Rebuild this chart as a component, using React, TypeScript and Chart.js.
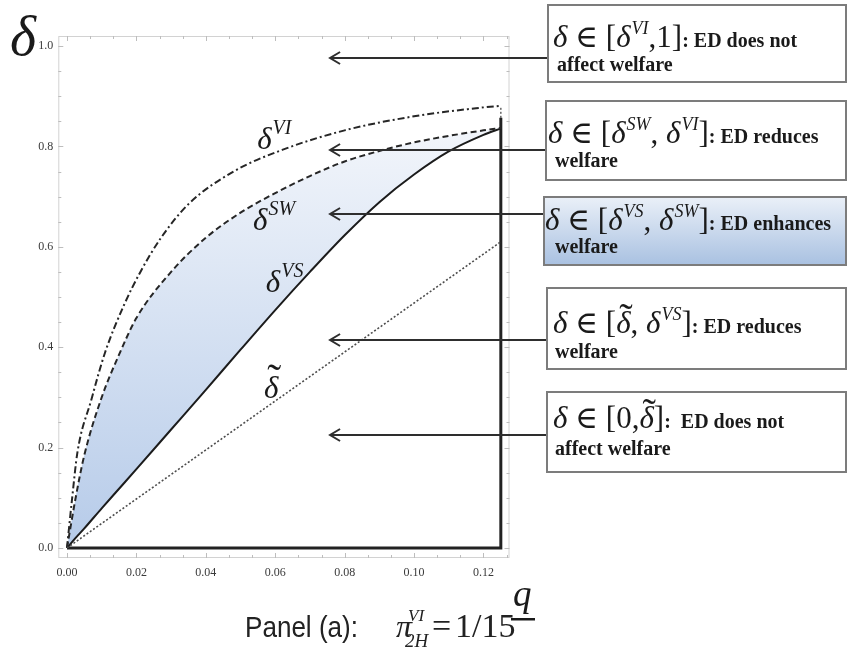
import React, { useEffect, useRef } from "react";
import { Chart, registerables } from "chart.js";
Chart.register(...registerables);

// ---- data ----
const qGrid = [0, 0.0025, 0.005, 0.01, 0.015, 0.02, 0.03, 0.04, 0.05, 0.06, 0.07, 0.08, 0.09, 0.1, 0.11, 0.12, 0.125];
const deltaSW = [0, 0.1, 0.185, 0.3, 0.385, 0.458, 0.55, 0.618, 0.668, 0.707, 0.741, 0.77, 0.791, 0.808, 0.821, 0.832, 0.837];
const deltaVS = [0, 0.02, 0.039, 0.079, 0.118, 0.157, 0.236, 0.315, 0.395, 0.474, 0.55, 0.623, 0.689, 0.744, 0.79, 0.823, 0.836];
const qVI = [0, 0.0015, 0.003, 0.007, 0.011, 0.0165, 0.021, 0.027, 0.035, 0.048, 0.062, 0.08, 0.1, 0.119, 0.125];
const deltaVI = [0, 0.1, 0.19, 0.295, 0.39, 0.485, 0.548, 0.617, 0.685, 0.75, 0.793, 0.832, 0.86, 0.877, 0.881];
const qTilde = [0, 0.125];
const deltaTilde = [0, 0.61];
const qBoundary = [0, 0.125, 0.125];
const deltaBoundary = [0, 0, 0.857];
const qCap = [0.125, 0.125];
const deltaCap = [0.857, 0.881];

const xTicks = [0, 0.02, 0.04, 0.06, 0.08, 0.1, 0.12];
const yTicks = [0, 0.2, 0.4, 0.6, 0.8, 1.0];
const xMinorStep = 0.02 / 3;
const yMinorStep = 0.05;

// arrows: delta level each arrow points at, and q of the arrow head
const arrowLevels = [0.976, 0.793, 0.665, 0.414, 0.225];
const arrowHeadQ = 0.0758;

// curve label anchors (q, delta)
const curveLabels = [
  { q: 0.0548, d: 0.795, sup: "VI", tilde: false },
  { q: 0.0536, d: 0.634, sup: "SW", tilde: false },
  { q: 0.0573, d: 0.51, sup: "VS", tilde: false },
  { q: 0.0568, d: 0.299, sup: "", tilde: true },
];

const SERIF = '"Liberation Serif", "DejaVu Serif", serif';
const SANS = '"Liberation Sans", Arial, sans-serif';
const fI = (s: number) => `italic ${s}px ${SERIF}`;
const fR = (s: number) => `${s}px ${SERIF}`;
const fB = (s: number) => `bold ${s}px ${SERIF}`;

type Part = { t: string; font: string; dy?: number; dx?: number; tilde?: boolean };

const M = 31;
const S = 18;
const B = 20;
const dI = (): Part => ({ t: "δ", font: fI(M) });
const sup = (t: string): Part => ({ t, font: fI(S), dy: -13, dx: 1 });

const boxes = [
  {
    x: 548, y: 5, w: 299, h: 77, blue: false,
    lines: [
      { x: 553, y: 47, parts: [dI(), { t: " ∈ [", font: fR(M) }, dI(), sup("VI"), { t: ",1]", font: fR(M) }, { t: ": ED does not", font: fB(B) }] },
      { x: 557, y: 71, parts: [{ t: "affect welfare", font: fB(B) }] },
    ],
  },
  {
    x: 546, y: 101, w: 301, h: 79, blue: false,
    lines: [
      { x: 548, y: 143, parts: [dI(), { t: " ∈ [", font: fR(M) }, dI(), sup("SW"), { t: ", ", font: fR(M) }, dI(), sup("VI"), { t: "]", font: fR(M) }, { t: ": ED reduces", font: fB(B) }] },
      { x: 555, y: 167, parts: [{ t: "welfare", font: fB(B) }] },
    ],
  },
  {
    x: 544, y: 197, w: 303, h: 68, blue: true,
    lines: [
      { x: 545, y: 230, parts: [dI(), { t: " ∈ [", font: fR(M) }, dI(), sup("VS"), { t: ", ", font: fR(M) }, dI(), sup("SW"), { t: "]", font: fR(M) }, { t: ": ED enhances", font: fB(B) }] },
      { x: 555, y: 253, parts: [{ t: "welfare", font: fB(B) }] },
    ],
  },
  {
    x: 547, y: 288, w: 300, h: 81, blue: false,
    lines: [
      { x: 553, y: 333, parts: [dI(), { t: " ∈ [", font: fR(M) }, { t: "δ", font: fI(M), tilde: true }, { t: ", ", font: fR(M) }, dI(), sup("VS"), { t: "]", font: fR(M) }, { t: ": ED reduces", font: fB(B) }] },
      { x: 555, y: 358, parts: [{ t: "welfare", font: fB(B) }] },
    ],
  },
  {
    x: 547, y: 392, w: 300, h: 80, blue: false,
    lines: [
      { x: 553, y: 428, parts: [dI(), { t: " ∈ [0,", font: fR(M) }, { t: "δ", font: fI(M), tilde: true }, { t: "]", font: fR(M) }, { t: ":  ED does not", font: fB(B) }] },
      { x: 555, y: 455, parts: [{ t: "affect welfare", font: fB(B) }] },
    ],
  },
];

function drawTilde(ctx: CanvasRenderingContext2D, x: number, y: number, w: number, size: number) {
  ctx.save();
  ctx.font = `${size * 1.3}px ${SERIF}`;
  const tw = ctx.measureText("˜").width;
  ctx.fillText("˜", x + w / 2 - tw / 2 + size * 0.08, y - size * 0.08);
  ctx.restore();
}

function drawRich(ctx: CanvasRenderingContext2D, x: number, y: number, parts: Part[]) {
  let cx = x;
  for (const p of parts) {
    ctx.font = p.font;
    const px = cx + (p.dx || 0);
    ctx.fillText(p.t, px, y + (p.dy || 0));
    const w = ctx.measureText(p.t).width;
    if (p.tilde) {
      const size = parseFloat(p.font.replace(/^[a-z ]*/, ""));
      drawTilde(ctx, px, y, w, size);
    }
    cx = px + w;
  }
}

const overlay = {
  id: "overlay",
  beforeDatasetsDraw(chart: any) {
    const { ctx, chartArea: ca, scales } = chart;
    const xs = scales.x;
    const ys = scales.y;
    ctx.save();
    ctx.strokeStyle = "#d2d2d2";
    ctx.lineWidth = 1;
    ctx.strokeRect(ca.left + 0.5, ca.top + 0.5, ca.right - ca.left - 1, ca.bottom - ca.top - 1);
    ctx.strokeStyle = "#bdbdbd";
    ctx.beginPath();
    for (let k = 0; k * xMinorStep <= xs.max; k++) {
      const v = k * xMinorStep;
      const major = k % 3 === 0;
      const len = major ? 5 : 3;
      const p = Math.round(xs.getPixelForValue(v)) + 0.5;
      ctx.moveTo(p, ca.bottom);
      ctx.lineTo(p, ca.bottom - len);
      ctx.moveTo(p, ca.top);
      ctx.lineTo(p, ca.top + len);
    }
    for (let k = 0; k * yMinorStep <= ys.max; k++) {
      const v = k * yMinorStep;
      const major = k % 4 === 0;
      const len = major ? 5 : 3;
      const p = Math.round(ys.getPixelForValue(v)) + 0.5;
      ctx.moveTo(ca.left, p);
      ctx.lineTo(ca.left + len, p);
      ctx.moveTo(ca.right, p);
      ctx.lineTo(ca.right - len, p);
    }
    ctx.stroke();
    ctx.restore();
  },
  afterDraw(chart: any) {
    const { ctx, scales } = chart;
    const xs = scales.x;
    const ys = scales.y;
    ctx.save();
    ctx.textBaseline = "alphabetic";
    ctx.textAlign = "left";

    // boxes
    for (const b of boxes) {
      if (b.blue) {
        const g = ctx.createLinearGradient(0, b.y, 0, b.y + b.h);
        g.addColorStop(0, "#eaf0f8");
        g.addColorStop(1, "#a9c1e1");
        ctx.fillStyle = g;
        ctx.fillRect(b.x, b.y, b.w, b.h);
      }
      ctx.strokeStyle = "#7c7c7c";
      ctx.lineWidth = 2;
      ctx.strokeRect(b.x, b.y, b.w - 1, b.h);
      ctx.fillStyle = "#1a1a1a";
      for (const ln of b.lines) drawRich(ctx, ln.x, ln.y, ln.parts);
    }

    // arrows
    ctx.strokeStyle = "#2e2e2e";
    ctx.lineWidth = 2;
    const xh = xs.getPixelForValue(arrowHeadQ);
    arrowLevels.forEach((lv, i) => {
      const y = Math.round(ys.getPixelForValue(lv));
      const xe = boxes[i].x - 1;
      ctx.beginPath();
      ctx.moveTo(xh + 1, y);
      ctx.lineTo(xe, y);
      ctx.stroke();
      ctx.beginPath();
      ctx.moveTo(xh + 10, y - 6);
      ctx.lineTo(xh, y);
      ctx.lineTo(xh + 10, y + 6);
      ctx.stroke();
    });

    // curve labels
    ctx.fillStyle = "#1a1a1a";
    for (const l of curveLabels) {
      const x = xs.getPixelForValue(l.q);
      const y = ys.getPixelForValue(l.d);
      ctx.font = fI(31);
      ctx.fillText("δ", x, y);
      const w = ctx.measureText("δ").width;
      if (l.sup) {
        ctx.font = fI(20);
        ctx.fillText(l.sup, x + w + 1, y - 15);
      }
      if (l.tilde) {
        ctx.font = `42px ${SERIF}`;
        const tw = ctx.measureText("˜").width;
        ctx.fillText("˜", x + w / 2 - tw / 2 + 3, y - 5);
      }
    }

    // axis labels
    ctx.font = fI(56);
    ctx.fillText("δ", 10, 55);
    ctx.font = fI(37);
    ctx.fillText("q", 513, 606);
    ctx.fillRect(511, 618, 24, 2.5);

    // caption
    ctx.font = `30px ${SANS}`;
    ctx.fillStyle = "#222";
    ctx.fillText("Panel (a):", 245, 637, 113);
    ctx.font = fI(32);
    ctx.fillText("π", 396, 637);
    ctx.font = fI(17);
    ctx.fillText("VI", 408, 621);
    ctx.font = fI(19);
    ctx.fillText("2H", 405, 647);
    ctx.font = fR(34);
    ctx.fillText("=", 432, 637);
    ctx.fillText("1/15", 455, 637, 64);
    ctx.restore();
  },
};

const pts = (xs: number[], ys: number[]) => xs.map((x, i) => ({ x, y: ys[i] }));

export default function App() {
  const ref = useRef<HTMLCanvasElement>(null);
  useEffect(() => {
    const canvas = ref.current;
    if (!canvas) return;
    const chart = new Chart(canvas, {
      type: "scatter",
      data: {
        datasets: [
          { label: "tilde", data: pts(qTilde, deltaTilde), showLine: true, borderColor: "#4d4d4d", borderWidth: 1.6, borderDash: [2, 2], pointRadius: 0, fill: false },
          { label: "SW", data: pts(qGrid, deltaSW), showLine: true, borderColor: "#262626", borderWidth: 2, borderDash: [6, 3.5], pointRadius: 0, cubicInterpolationMode: "monotone", fill: false },
          {
            label: "VS", data: pts(qGrid, deltaVS), showLine: true, borderColor: "#1c1c1c", borderWidth: 2, pointRadius: 0, cubicInterpolationMode: "monotone", fill: 1,
            backgroundColor: (c: any) => {
              const ch = c.chart;
              if (!ch.chartArea) return "#c8d7ee";
              const y0 = ch.scales.y.getPixelForValue(0);
              const y1 = ch.scales.y.getPixelForValue(0.85);
              const g = ch.ctx.createLinearGradient(0, y0, 0, y1);
              g.addColorStop(0, "#b6cbe9");
              g.addColorStop(1, "#f3f6fb");
              return g;
            },
          },
          { label: "VI", data: pts(qVI, deltaVI), showLine: true, borderColor: "#262626", borderWidth: 2, borderDash: [7, 3, 2, 3], pointRadius: 0, cubicInterpolationMode: "monotone", fill: false },
          { label: "boundary", data: pts(qBoundary, deltaBoundary), showLine: true, borderColor: "#222", borderWidth: 3, pointRadius: 0, fill: false, borderJoinStyle: "miter" },
          { label: "cap", data: pts(qCap, deltaCap), showLine: true, borderColor: "#666", borderWidth: 1.5, borderDash: [2, 2], pointRadius: 0, fill: false },
        ],
      } as any,
      options: {
        animation: false,
        responsive: false,
        devicePixelRatio: 1,
        layout: { padding: { left: 0, top: 36, right: 337.5, bottom: 67 } },
        plugins: {
          legend: { display: false },
          tooltip: { enabled: false },
          filler: { drawTime: "beforeDatasetsDraw" },
        } as any,
        scales: {
          x: {
            type: "linear", min: -0.0025, max: 0.1275,
            grid: { display: false, drawTicks: false }, border: { display: false },
            afterBuildTicks: (s: any) => { s.ticks = xTicks.map((v) => ({ value: v })); },
            afterFit: (s: any) => { s.height = 30; },
            ticks: { font: { family: SERIF, size: 12 }, color: "#3a3a3a", padding: 8, maxRotation: 0, autoSkip: false, callback: (v: any) => Number(v).toFixed(2) },
          },
          y: {
            type: "linear", min: -0.02, max: 1.02,
            grid: { display: false, drawTicks: false }, border: { display: false },
            afterBuildTicks: (s: any) => { s.ticks = yTicks.map((v) => ({ value: v })); },
            afterFit: (s: any) => { s.width = 58.3; },
            ticks: { font: { family: SERIF, size: 12 }, color: "#3a3a3a", padding: 5, autoSkip: false, callback: (v: any) => Number(v).toFixed(1) },
          },
        },
      } as any,
      plugins: [overlay],
    });
    return () => chart.destroy();
  }, []);
  return (
    <div style={{ position: "fixed", left: 0, top: 0, width: 847, height: 655, background: "#fff" }}>
      <canvas ref={ref} width={847} height={655} style={{ width: 847, height: 655, display: "block" }} />
    </div>
  );
}
